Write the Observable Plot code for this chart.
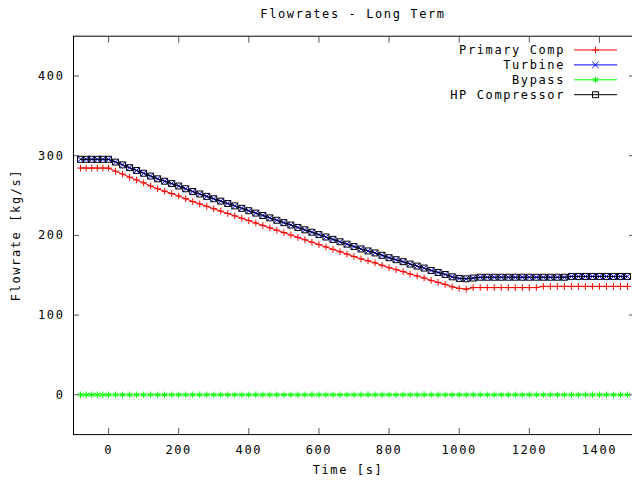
<!DOCTYPE html>
<html><head><meta charset="utf-8">
<script src="https://cdn.jsdelivr.net/npm/d3@7"></script>
<script src="https://cdn.jsdelivr.net/npm/@observablehq/plot@0.6"></script>
<style>
html,body{margin:0;padding:0;overflow:hidden;background:#fff;width:632px;height:485px}
#chart{width:632px;height:485px;overflow:hidden}
#chart svg{display:block;font-family:"DejaVu Sans Mono",monospace;font-size:12px;letter-spacing:1.6px}
</style></head><body><div id="chart"></div>
<script>
const times = [-80,-64,-48,-32,-16,0,
  20,40,60,80,100,120,140,160,180,200,
  220,240,260,280,300,320,340,360,380,400,
  420,440,460,480,500,520,540,560,580,600,
  620,640,660,680,700,720,740,760,780,800,
  820,840,860,880,900,920,940,960,980,1000,
  1020,1040,1060,1080,1100,1120,1140,1160,1180,1200,
  1220,1240,1260,1280,1300,1320,1340,1360,1380,1400,
  1420,1440,1460,1480];
const primaryComp = [284.5,284.5,284.5,284.5,284.5,284.5,
  280.5,277,273,269.5,266,262,258.5,255.5,252.5,249.5,
  246,242.5,239.5,236.5,233.5,230.5,227.5,224.5,221.5,218.5,
  215.5,212.5,209.5,206.5,203.5,200.5,197.5,194.5,191.5,188.5,
  185.5,182.5,179.5,176.5,173.5,170.5,168,165.5,162.5,159.5,
  157,154.5,151.5,149,146.5,143.5,141,138.5,135.5,133.5,
  132.5,134.5,134.5,134.5,134.5,134.5,134.5,134.5,134.5,134.5,
  134.5,136,136,136,136,136,136,136,136,136,
  136,136,136,136];
const turbine = [295.5,295.5,295.5,295.5,295.5,295.5,
  292,288.5,285,281.5,278,274.5,271,268,265,262,
  258.5,255,252,249,246,243,240,237,234,231,
  228,225,222,219,216,213,210,207,204,201,
  198,195,192,189,186,183,180.5,178,175,172,
  169.5,167,164,161.5,159,156,153.5,151,148,146,
  145.5,146.5,147.5,147.5,147.5,147.5,147.5,147.5,147.5,147.5,
  147.5,147.5,147.5,147.5,147.5,148.5,148.5,148.5,148.5,148.5,
  148.5,148.5,148.5,148.5];
const bypass = [0,0,0,0,0,0,
  0,0,0,0,0,0,0,0,0,0,
  0,0,0,0,0,0,0,0,0,0,
  0,0,0,0,0,0,0,0,0,0,
  0,0,0,0,0,0,0,0,0,0,
  0,0,0,0,0,0,0,0,0,0,
  0,0,0,0,0,0,0,0,0,0,
  0,0,0,0,0,0,0,0,0,0,
  0,0,0,0];
const hpCompressor = [295.5,295.5,295.5,295.5,295.5,295.5,
  292,288.5,285,281.5,278,274.5,271,268,265,262,
  258.5,255,252,249,246,243,240,237,234,231,
  228,225,222,219,216,213,210,207,204,201,
  198,195,192,189,186,183,180.5,178,175,172,
  169.5,167,164,161.5,159,156,153.5,151,148,146,
  145.5,146.5,147.5,147.5,147.5,147.5,147.5,147.5,147.5,147.5,
  147.5,147.5,147.5,147.5,147.5,148.5,148.5,148.5,148.5,148.5,
  148.5,148.5,148.5,148.5];
const seriesNames = ["Primary Comp","Turbine","Bypass","HP Compressor"];
const seriesValues = [primaryComp, turbine, bypass, hpCompressor];
const seriesColors = ["#ff0000","#0000ff","#00ff00","#000000"];
const seriesSymbols = ["plus","times","asterisk","square2"];
const seriesR = [2.3, 3, 3, 3.8];
const xTicks = [0,200,400,600,800,1000,1200,1400];
const yTicks = [0,100,200,300,400];
const xDomain = [-100,1500];
const yDomain = [-50,450];
const titleText = "Flowrates - Long Term";
const xLabel = "Time [s]";
const yLabel = "Flowrate [kg/s]";

const series = seriesNames.map((name, i) => times.map((t, j) => ({t, v: seriesValues[i][j], name})));
const fmt = d => String(d);

const marks = [
  Plot.axisX({anchor:"bottom", ticks:xTicks, tickSize:-6, tickPadding:17, tickFormat:fmt, label:null, stroke:"#555", fill:"#000"}),
  Plot.axisX({anchor:"top", ticks:xTicks, tickSize:-6, tickFormat:() => "", label:null, stroke:"#555"}),
  Plot.axisY({anchor:"left", ticks:yTicks, tickSize:-6, tickPadding:15, tickFormat:fmt, label:null, stroke:"#555", fill:"#000"}),
  Plot.axisY({anchor:"right", ticks:yTicks, tickSize:-6, tickFormat:() => "", label:null, stroke:"#555"}),
];
series.forEach((rows, i) => {
  marks.push(Plot.line(rows, {x:"t", y:"v", stroke:seriesColors[i], strokeWidth:1}));
  marks.push(Plot.dot(rows, {x:"t", y:"v", symbol:seriesSymbols[i], r:seriesR[i], stroke:seriesColors[i], fill:"none", strokeWidth:1}));
});
marks.push(Plot.frame({stroke:"#000", strokeWidth:1}));

const chart = Plot.plot({
  width: 632, height: 485,
  marginLeft: 73, marginRight: -2, marginTop: 35.7, marginBottom: 50.9,
  x: {domain: xDomain, label: null},
  y: {domain: yDomain, label: null},
  style: {fontFamily: '"DejaVu Sans Mono", monospace', fontSize: "12px", background: "#fff"},
  marks
});
document.getElementById("chart").appendChild(chart);

const svg = d3.select(chart);
svg.append("text").attr("x", 353).attr("y", 18).attr("text-anchor", "middle").attr("fill", "#000").text(titleText);
svg.append("text").attr("x", 348).attr("y", 474).attr("text-anchor", "middle").attr("fill", "#000").text(xLabel);
svg.append("text").attr("transform", "translate(20,235) rotate(-90)").attr("text-anchor", "middle").attr("fill", "#000").text(yLabel);

const leg = svg.append("g");
const symMap = {plus: d3.symbolPlus, times: d3.symbolTimes, asterisk: d3.symbolAsterisk, square2: d3.symbolSquare2};
seriesNames.forEach((name, i) => {
  const y = 50 + i * 14.9;
  leg.append("text").attr("x", 565).attr("y", y).attr("dy", "0.35em").attr("text-anchor", "end").attr("fill", "#000").text(name);
  leg.append("line").attr("x1", 574).attr("x2", 617).attr("y1", y).attr("y2", y).attr("stroke", seriesColors[i]).attr("stroke-width", 1);
  leg.append("path").attr("transform", `translate(595.5,${y})`)
    .attr("d", d3.symbol(symMap[seriesSymbols[i]], Math.PI * seriesR[i] * seriesR[i])())
    .attr("fill", "none").attr("stroke", seriesColors[i]).attr("stroke-width", 1);
});
</script></body></html>
